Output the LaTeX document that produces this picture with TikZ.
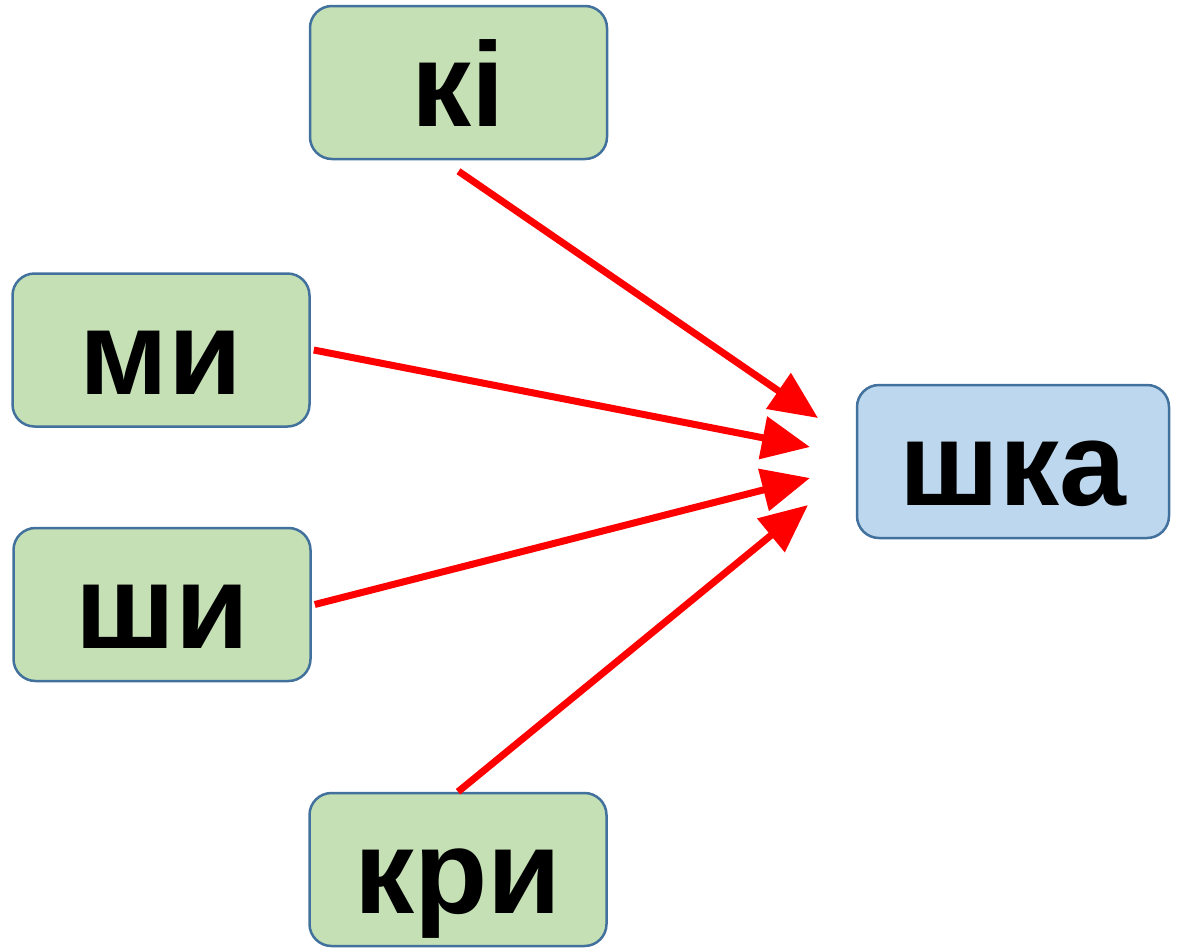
\documentclass[tikz,border=0pt]{standalone}
\usepackage{fontspec}
\setmainfont{Liberation Sans}
\usetikzlibrary{arrows.meta}
\definecolor{gfill}{HTML}{C5E0B4}
\definecolor{bfill}{HTML}{BDD7EE}
\definecolor{edge}{HTML}{41719C}
\begin{document}
\begin{tikzpicture}[x=1pt,y=-1pt,
  box/.style={draw=edge, line width=2.5pt, rounded corners=22pt, fill=gfill,
    minimum width=297pt, minimum height=153pt, inner sep=0pt,
    text height=100pt, text depth=12pt,
    font=\fontsize{120}{120}\selectfont\bfseries},
  arr/.style={draw=red, line width=7pt, -{Triangle[length=48pt,width=42pt]}}]
\useasboundingbox (0,0) rectangle (1178,951);
\node[box] (ki) at (458.5,82.5) {кі};
\node[box] (mi) at (161,350) {ми};
\node[box] (shi) at (162,604.5) {ши};
\node[box] (kri) at (458,869.5) {кри};
\node[box, fill=bfill, minimum width=312pt] (shka) at (1013,461.5) {шка};
\coordinate (t1) at (818,418);
\coordinate (t2) at (810,447);
\coordinate (t3) at (810,478);
\coordinate (t4) at (808,505);
\draw[arr] ([yshift=-11pt]ki.south) -- (t1);
\draw[arr] ([xshift=3pt]mi.east) -- (t2);
\draw[arr] ([xshift=3pt]shi.east) -- (t3);
\draw[arr] (kri.north) -- (t4);
\end{tikzpicture}
\end{document}
